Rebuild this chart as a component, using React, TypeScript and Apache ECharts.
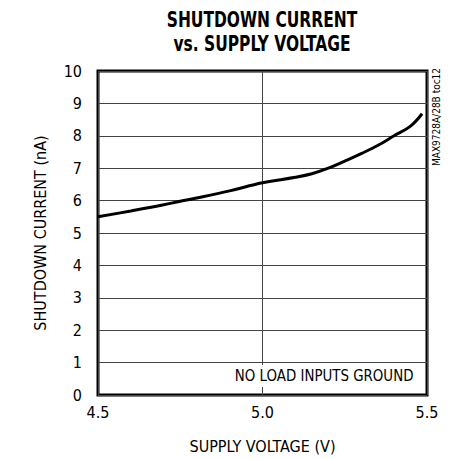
import React, { useEffect, useRef } from "react";
import * as echarts from "echarts";

const voltage = [4.5, 4.6, 4.7, 4.75, 4.8, 4.9, 5.0, 5.1, 5.15, 5.2, 5.25, 5.3, 5.35, 5.4, 5.45, 5.485];
const current = [5.5, 5.68, 5.87, 5.98, 6.08, 6.3, 6.55, 6.72, 6.83, 7.0, 7.22, 7.45, 7.7, 8.0, 8.3, 8.68];
const titleLines = ["SHUTDOWN CURRENT", "vs. SUPPLY VOLTAGE"];
const xName = "SUPPLY VOLTAGE (V)";
const yName = "SHUTDOWN CURRENT (nA)";
const note = "NO LOAD INPUTS GROUND";
const sideNote = "MAX9728A/28B toc12";

const FONT = "'DejaVu Sans Condensed', 'Liberation Sans Narrow', sans-serif";

export default function App() {
  const ref = useRef<HTMLDivElement>(null);
  useEffect(() => {
    if (!ref.current) return;
    const chart = echarts.init(ref.current, undefined, { renderer: "svg" });
    const data = voltage.map((v, i) => [v, current[i]]);
    chart.setOption({
      animation: false,
      backgroundColor: "#fff",
      grid: { left: 98, right: 23, top: 71, bottom: 60, show: true, borderColor: "#000", borderWidth: 3, backgroundColor: "transparent" },
      xAxis: {
        type: "value",
        min: 4.5,
        max: 5.5,
        interval: 0.5,
        name: xName,
        nameLocation: "middle",
        nameGap: 43,
        nameTextStyle: { fontFamily: FONT, fontSize: 16, color: "#000" },
        axisLine: { show: false },
        axisTick: { show: false },
        axisLabel: { fontFamily: FONT, fontSize: 16, color: "#000", margin: 9, formatter: (v: number) => v.toFixed(1) },
        splitLine: { show: true, lineStyle: { color: "#444", width: 1 } },
      },
      yAxis: {
        type: "value",
        min: 0,
        max: 10,
        interval: 1,
        name: yName,
        nameLocation: "middle",
        nameGap: 50,
        nameTextStyle: { fontFamily: FONT, fontSize: 16, color: "#000" },
        axisLine: { show: false },
        axisTick: { show: false },
        axisLabel: { fontFamily: FONT, fontSize: 16, color: "#000", margin: 16 },
        splitLine: { show: true, lineStyle: { color: "#444", width: 1 } },
      },
      series: [
        {
          type: "line",
          data,
          smooth: 0.4,
          symbol: "none",
          lineStyle: { color: "#000", width: 3 },
          z: 3,
        },
      ],
      graphic: [
        {
          type: "text",
          x: 262,
          y: 8,
          scaleX: 0.82,
          style: {
            text: titleLines.join("\n"),
            fontFamily: FONT,
            fontWeight: "bold",
            fontSize: 21,
            lineHeight: 24,
            fill: "#000",
            textAlign: "center",
            textVerticalAlign: "top",
          },
        },
        {
          type: "text",
          x: 232,
          y: 365,
          scaleX: 0.93,
          z: 10,
          style: {
            text: note,
            fontFamily: FONT,
            fontSize: 16,
            fill: "#000",
            backgroundColor: "#fff",
            padding: [3, 3, 3, 3],
            textVerticalAlign: "top",
          },
        },
        {
          type: "text",
          x: 431,
          y: 166,
          rotation: Math.PI / 2,
          style: {
            text: sideNote,
            fontFamily: FONT,
            fontSize: 10,
            fill: "#000",
            textVerticalAlign: "top",
          },
        },
      ],
    });
    return () => chart.dispose();
  }, []);
  return <div ref={ref} style={{ width: 450, height: 459, position: "fixed", left: 0, top: 0 }} />;
}
